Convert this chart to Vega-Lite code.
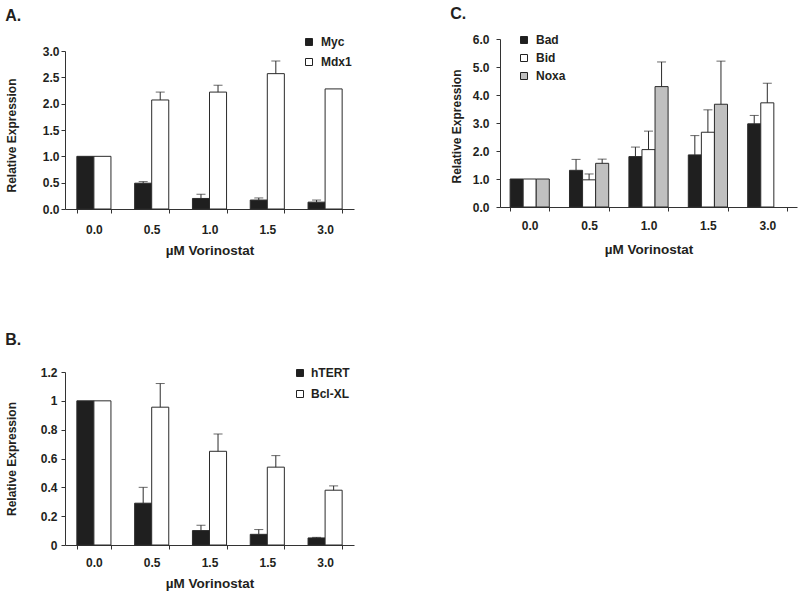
{
  "$schema": "https://vega.github.io/schema/vega-lite/v6.json",
  "padding": {"left": 5, "top": 6, "right": 5, "bottom": 5},
  "background": "white",
  "config": {
    "view": {"stroke": null},
    "font": "Liberation Sans",
    "axis": {
      "labelFont": "Liberation Sans", "labelFontWeight": "bold", "labelFontSize": 12, "labelColor": "#231f20",
      "titleFont": "Liberation Sans", "titleFontWeight": "bold", "titleFontSize": 12, "titleColor": "#231f20",
      "domainColor": "#333333", "tickColor": "#333333", "grid": false, "tickSize": 4, "labelOverlap": false
    },
    "axisX": {"titleFontSize": 13.5},
    "legend": {
      "labelFont": "Liberation Sans", "labelFontWeight": "bold", "labelFontSize": 12, "labelColor": "#231f20",
      "symbolType": "square", "symbolSize": 49, "symbolStrokeColor": "#222222", "symbolStrokeWidth": 1
    },
    "title": {"font": "Liberation Sans", "fontSize": 16, "fontWeight": "bold", "anchor": "start", "color": "#231f20"}
  },
  "datasets": {
    "A": [
      {"dose": "0.0", "series": "Myc", "value": 1.0, "err": null},
      {"dose": "0.5", "series": "Myc", "value": 0.49, "err": 0.52},
      {"dose": "1.0", "series": "Myc", "value": 0.20, "err": 0.28},
      {"dose": "1.5", "series": "Myc", "value": 0.17, "err": 0.21},
      {"dose": "3.0", "series": "Myc", "value": 0.13, "err": 0.17},
      {"dose": "0.0", "series": "Mdx1", "value": 1.0, "err": null},
      {"dose": "0.5", "series": "Mdx1", "value": 2.07, "err": 2.22},
      {"dose": "1.0", "series": "Mdx1", "value": 2.22, "err": 2.35},
      {"dose": "1.5", "series": "Mdx1", "value": 2.57, "err": 2.81},
      {"dose": "3.0", "series": "Mdx1", "value": 2.28, "err": null}
    ],
    "C": [
      {"dose": "0.0", "series": "Bad", "value": 1.0, "err": null},
      {"dose": "0.5", "series": "Bad", "value": 1.31, "err": 1.70},
      {"dose": "1.0", "series": "Bad", "value": 1.80, "err": 2.14},
      {"dose": "1.5", "series": "Bad", "value": 1.86, "err": 2.55},
      {"dose": "3.0", "series": "Bad", "value": 2.97, "err": 3.27},
      {"dose": "0.0", "series": "Bid", "value": 1.0, "err": null},
      {"dose": "0.5", "series": "Bid", "value": 0.97, "err": 1.18},
      {"dose": "1.0", "series": "Bid", "value": 2.05, "err": 2.71},
      {"dose": "1.5", "series": "Bid", "value": 2.67, "err": 3.47},
      {"dose": "3.0", "series": "Bid", "value": 3.72, "err": 4.42},
      {"dose": "0.0", "series": "Noxa", "value": 1.0, "err": null},
      {"dose": "0.5", "series": "Noxa", "value": 1.56, "err": 1.71},
      {"dose": "1.0", "series": "Noxa", "value": 4.30, "err": 5.18},
      {"dose": "1.5", "series": "Noxa", "value": 3.67, "err": 5.21}
    ],
    "B": [
      {"dose": "0.0", "series": "hTERT", "value": 1.0, "err": null},
      {"dose": "0.5", "series": "hTERT", "value": 0.29, "err": 0.40},
      {"dose": "1.5 (i)", "series": "hTERT", "value": 0.10, "err": 0.137},
      {"dose": "1.5 (ii)", "series": "hTERT", "value": 0.074, "err": 0.107},
      {"dose": "3.0", "series": "hTERT", "value": 0.049, "err": 0.053},
      {"dose": "0.0", "series": "Bcl-XL", "value": 1.0, "err": null},
      {"dose": "0.5", "series": "Bcl-XL", "value": 0.956, "err": 1.12},
      {"dose": "1.5 (i)", "series": "Bcl-XL", "value": 0.65, "err": 0.77},
      {"dose": "1.5 (ii)", "series": "Bcl-XL", "value": 0.54, "err": 0.62},
      {"dose": "3.0", "series": "Bcl-XL", "value": 0.38, "err": 0.41}
    ]
  },
  "columns": 2,
  "align": "each",
  "bounds": "flush",
  "spacing": {"row": 163, "column": 146},
  "resolve": {
    "scale": {"x": "independent", "y": "independent", "xOffset": "independent", "fill": "independent"},
    "legend": {"fill": "independent"}
  },
  "concat": [
    {
      "width": 289, "height": 170,
      "title": {"text": "A.", "offset": 12},
      "data": {"name": "A"},
      "encoding": {
        "x": {"field": "dose", "type": "nominal", "sort": null,
          "scale": {"paddingInner": 0.41, "paddingOuter": 0.205},
          "axis": {"title": "µM Vorinostat", "labelAngle": 0, "tickBand": "extent", "labelPadding": 11, "titlePadding": 8}},
        "xOffset": {"field": "series", "type": "nominal", "scale": {"domain": ["Myc", "Mdx1"]}}
      },
      "layer": [
        {
          "mark": {"type": "bar", "stroke": "#2b2b2b", "strokeWidth": 1},
          "encoding": {
            "y": {"field": "value", "type": "quantitative",
              "scale": {"domain": [0, 3], "range": [170, 12], "nice": false},
              "axis": {"title": "Relative Expression", "values": [0, 0.5, 1, 1.5, 2, 2.5, 3], "format": ".1f", "labelPadding": 2, "titlePadding": 24, "labelOverlap": false, "titleY": 96}},
            "fill": {"field": "series", "type": "nominal",
              "scale": {"domain": ["Myc", "Mdx1"], "range": ["#1f1f1f", "#ffffff"]},
              "legend": {"title": null, "orient": "none", "legendX": 238, "legendY": -3, "rowPadding": 8, "labelOffset": 6}}
          }
        },
        {
          "transform": [{"filter": "datum.err != null"}],
          "mark": {"type": "rule", "color": "#2b2b2b", "strokeWidth": 1},
          "encoding": {
            "y": {"field": "value", "type": "quantitative",
              "axis": {"title": "Relative Expression", "values": [0, 0.5, 1, 1.5, 2, 2.5, 3], "format": ".1f", "labelPadding": 2, "titlePadding": 24, "labelOverlap": false, "titleY": 96}},
            "y2": {"field": "err"}
          }
        },
        {
          "transform": [{"filter": "datum.err != null"}],
          "mark": {"type": "tick", "color": "#2b2b2b", "thickness": 1, "size": 9, "orient": "horizontal"},
          "encoding": {
            "y": {"field": "err", "type": "quantitative",
              "axis": {"title": "Relative Expression", "values": [0, 0.5, 1, 1.5, 2, 2.5, 3], "format": ".1f", "labelPadding": 2, "titlePadding": 24, "labelOverlap": false, "titleY": 96}}
          }
        }
      ]
    },
    {
      "width": 297, "height": 168,
      "title": {"text": "C.", "offset": 11},
      "data": {"name": "C"},
      "encoding": {
        "x": {"field": "dose", "type": "nominal", "sort": null,
          "scale": {"paddingInner": 0.34, "paddingOuter": 0.17},
          "axis": {"title": "µM Vorinostat", "labelAngle": 0, "tickBand": "extent", "labelPadding": 9, "titlePadding": 11}},
        "xOffset": {"field": "series", "type": "nominal", "scale": {"domain": ["Bad", "Bid", "Noxa"]}}
      },
      "layer": [
        {
          "mark": {"type": "bar", "stroke": "#2b2b2b", "strokeWidth": 1},
          "encoding": {
            "y": {"field": "value", "type": "quantitative",
              "scale": {"domain": [0, 6], "nice": false},
              "axis": {"title": "Relative Expression", "values": [0, 1, 2, 3, 4, 5, 6], "format": ".1f", "labelPadding": 7, "titlePadding": 9, "labelOverlap": false, "titleY": 87}},
            "fill": {"field": "series", "type": "nominal",
              "scale": {"domain": ["Bad", "Bid", "Noxa"], "range": ["#1f1f1f", "#ffffff", "#c0c0c0"]},
              "legend": {"title": null, "orient": "none", "legendX": 18, "legendY": -5, "rowPadding": 6, "labelOffset": 6}}
          }
        },
        {
          "transform": [{"filter": "datum.err != null"}],
          "mark": {"type": "rule", "color": "#2b2b2b", "strokeWidth": 1},
          "encoding": {
            "y": {"field": "value", "type": "quantitative",
              "axis": {"title": "Relative Expression", "values": [0, 1, 2, 3, 4, 5, 6], "format": ".1f", "labelPadding": 7, "titlePadding": 9, "labelOverlap": false, "titleY": 87}},
            "y2": {"field": "err"}
          }
        },
        {
          "transform": [{"filter": "datum.err != null"}],
          "mark": {"type": "tick", "color": "#2b2b2b", "thickness": 1, "size": 9, "orient": "horizontal"},
          "encoding": {
            "y": {"field": "err", "type": "quantitative",
              "axis": {"title": "Relative Expression", "values": [0, 1, 2, 3, 4, 5, 6], "format": ".1f", "labelPadding": 7, "titlePadding": 9, "labelOverlap": false, "titleY": 87}}
          }
        }
      ]
    },
    {
      "width": 289, "height": 173,
      "title": {"text": "B.", "offset": 18},
      "data": {"name": "B"},
      "encoding": {
        "x": {"field": "dose", "type": "nominal", "sort": null,
          "scale": {"paddingInner": 0.41, "paddingOuter": 0.205},
          "axis": {"title": "µM Vorinostat", "labelAngle": 0, "tickBand": "extent", "labelPadding": 8, "titlePadding": 8, "labelExpr": "slice(datum.label, 0, 3)"}},
        "xOffset": {"field": "series", "type": "nominal", "scale": {"domain": ["hTERT", "Bcl-XL"]}}
      },
      "layer": [
        {
          "mark": {"type": "bar", "stroke": "#2b2b2b", "strokeWidth": 1},
          "encoding": {
            "y": {"field": "value", "type": "quantitative",
              "scale": {"domain": [0, 1.2], "nice": false},
              "axis": {"title": "Relative Expression", "values": [0, 0.2, 0.4, 0.6, 0.8, 1, 1.2], "format": ".2~f", "labelPadding": 4, "titlePadding": 22, "labelOverlap": false}},
            "fill": {"field": "series", "type": "nominal",
              "scale": {"domain": ["hTERT", "Bcl-XL"], "range": ["#1f1f1f", "#ffffff"]},
              "legend": {"title": null, "orient": "none", "legendX": 229, "legendY": -5, "rowPadding": 9, "labelOffset": 5}}
          }
        },
        {
          "transform": [{"filter": "datum.err != null"}],
          "mark": {"type": "rule", "color": "#2b2b2b", "strokeWidth": 1},
          "encoding": {
            "y": {"field": "value", "type": "quantitative",
              "axis": {"title": "Relative Expression", "values": [0, 0.2, 0.4, 0.6, 0.8, 1, 1.2], "format": ".2~f", "labelPadding": 4, "titlePadding": 22, "labelOverlap": false}},
            "y2": {"field": "err"}
          }
        },
        {
          "transform": [{"filter": "datum.err != null"}],
          "mark": {"type": "tick", "color": "#2b2b2b", "thickness": 1, "size": 9, "orient": "horizontal"},
          "encoding": {
            "y": {"field": "err", "type": "quantitative",
              "axis": {"title": "Relative Expression", "values": [0, 0.2, 0.4, 0.6, 0.8, 1, 1.2], "format": ".2~f", "labelPadding": 4, "titlePadding": 22, "labelOverlap": false}}
          }
        }
      ]
    }
  ]
}
